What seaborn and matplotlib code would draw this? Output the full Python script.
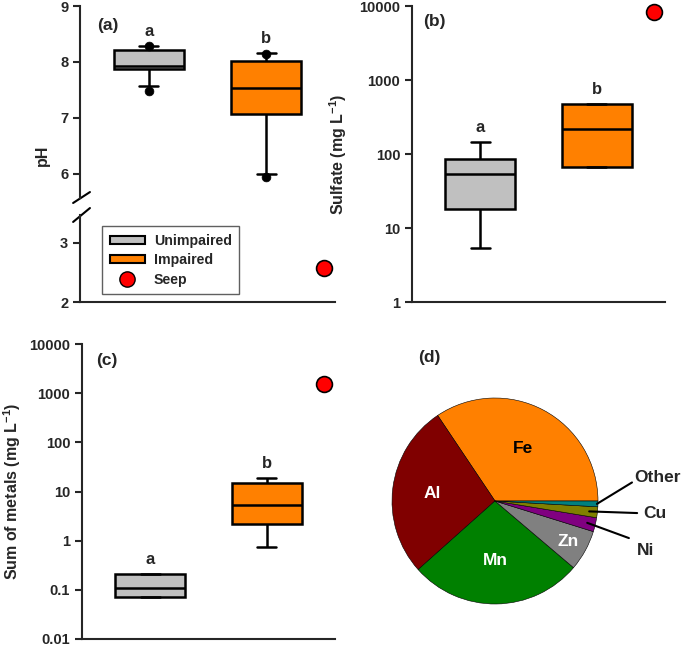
import numpy as np
import pandas as pd
import seaborn as sns
import matplotlib.pyplot as plt
from matplotlib.patches import Patch
from matplotlib.lines import Line2D

# ------- data ----------------------------
# box summaries: lower whisker, Q1, median, Q3, upper whisker
groups = ["Unimpaired", "Impaired"]

ph_unimpaired = [7.57, 7.87, 7.93, 8.21, 8.29]
ph_impaired = [5.99, 7.07, 7.54, 8.01, 8.16]
ph_dots_unimpaired = [7.49, 8.29]
ph_dots_impaired = [5.95, 8.15]
ph_seep = 2.57

sulfate_unimpaired = [5.3, 18.3, 54, 85, 144]
sulfate_impaired = [67, 67, 218, 479, 479]
sulfate_seep = 8300

metals_unimpaired = [0.070, 0.070, 0.111, 0.214, 0.214]
metals_impaired = [0.74, 2.17, 5.4, 14.8, 18.5]
metals_seep = 1550

letters = ["a", "b"]

ph_ticks_up = [6, 7, 8, 9]
ph_ticks_low = [2, 3]
sulfate_ticks = [1, 10, 100, 1000, 10000]
sulfate_labels = ["1", "10", "100", "1000", "10000"]
metals_ticks = [0.01, 0.1, 1, 10, 100, 1000, 10000]
metals_labels = ["0.01", "0.1", "1", "10", "100", "1000", "10000"]

metal_names = ["Fe", "Al", "Mn", "Zn", "Ni", "Cu", "Other"]
metal_share = [34.4, 27.2, 27.2, 6.4, 2.2, 1.7, 0.9]

# ------- style --------
box_colors = {"Unimpaired": "#c0c0c0", "Impaired": "#ff8000"}
pie_colors = ["#ff8000", "#800000", "#008000", "#808080", "#800080", "#808000", "#008080"]
pos = {"Unimpaired": 0, "Impaired": 1}
seep_x = 1.49
xlim = (-0.587, 1.587)

sns.set_style("ticks")
plt.rcParams['font.family'] = ['Liberation Sans', 'DejaVu Sans']
plt.rcParams['font.weight'] = 'bold'
plt.rcParams['axes.labelweight'] = 'bold'
plt.rcParams['mathtext.fontset'] = 'custom'
plt.rcParams['mathtext.rm'] = 'Liberation Sans:bold'
plt.rcParams['mathtext.bf'] = 'Liberation Sans:bold'
plt.rcParams['mathtext.it'] = 'Liberation Sans:bold'
plt.rcParams['axes.linewidth'] = 1.5

W, H = 685, 648
fig = plt.figure(figsize=(W / 100, H / 100), dpi=100)


def px_axes(left, top, right, bottom):
    return fig.add_axes([left / W, 1 - bottom / H, (right - left) / W, (bottom - top) / H])


def box_frame(unimp, imp):
    df = pd.DataFrame({"group": ["Unimpaired"] * len(unimp) + ["Impaired"] * len(imp),
                       "value": unimp + imp})
    df["pos"] = df["group"].map(pos)
    return df


def draw_boxes(ax, df, log=False):
    sns.boxplot(data=df, x="pos", y="value", hue="group", palette=box_colors,
                saturation=1, native_scale=True, width=0.6, whis=(0, 100),
                linewidth=1.8, linecolor="black", fliersize=0, legend=False,
                log_scale=(False, log), ax=ax, capwidths=0.16)
    ax.set_xlim(*xlim)
    ax.set_xlabel("")
    ax.tick_params(axis="x", bottom=False, labelbottom=False)
    ax.tick_params(axis="y", direction="out", length=5, width=1.5, labelsize=10.5)
    ax.minorticks_off()
    sns.despine(ax=ax)


def add_letters(ax, df):
    for g, let in zip(groups, letters):
        top = df.loc[df["group"] == g, "value"].max()
        ax.annotate(let, (pos[g], top), xytext=(0, 5), textcoords="offset points",
                    ha="center", va="bottom", fontsize=12, fontweight="bold")


def add_seep(ax, value):
    sns.scatterplot(x=[seep_x], y=[value], ax=ax, color="red", edgecolor="black",
                    linewidth=1.2, s=130, zorder=4, legend=False, clip_on=False)


# ------- (a) pH with broken axis --------
a_up = px_axes(80, 6, 335, 198)
a_lo = px_axes(80, 215, 335, 302)

ph_df = box_frame(ph_unimpaired, ph_impaired)
draw_boxes(a_up, ph_df)
dots = pd.DataFrame({"pos": [pos["Unimpaired"]] * 2 + [pos["Impaired"]] * 2,
                     "value": ph_dots_unimpaired + ph_dots_impaired})
sns.scatterplot(data=dots, x="pos", y="value", ax=a_up, color="black",
                edgecolor="black", s=40, zorder=4, legend=False)
a_up.set_ylim(5.57, 9.0)
a_up.set_yticks(ph_ticks_up)
a_up.spines["bottom"].set_visible(False)
a_up.set_ylabel("pH", fontsize=11.5)
a_up.yaxis.set_label_coords(-0.118, 0.224)
dots_df = pd.concat([ph_df, dots.assign(group=["Unimpaired"] * 2 + ["Impaired"] * 2)])
add_letters(a_up, dots_df)
a_up.text(0.067, 0.90, "(a)", transform=a_up.transAxes, fontsize=12.5,
          fontweight="bold", ha="left", va="center")

add_seep(a_lo, ph_seep)
a_lo.set_xlim(*xlim)
a_lo.set_ylim(2, 3.47)
a_lo.set_yticks(ph_ticks_low)
a_lo.set_xlabel("")
a_lo.set_ylabel("")
a_lo.tick_params(axis="x", bottom=False, labelbottom=False)
a_lo.tick_params(axis="y", direction="out", length=5, width=1.5, labelsize=10.5)
sns.despine(ax=a_lo)

# break marks
for ax, ys in [(a_up, (-0.026, 0.031)), (a_lo, (0.92, 1.08))]:
    ax.plot([-0.027, 0.039], ys, transform=ax.transAxes, color="black",
            linewidth=1.5, clip_on=False)

handles = [Patch(facecolor=box_colors["Unimpaired"], edgecolor="black", linewidth=1.5),
           Patch(facecolor=box_colors["Impaired"], edgecolor="black", linewidth=1.5),
           Line2D([], [], marker="o", linestyle="none", markerfacecolor="red",
                  markeredgecolor="black", markersize=11)]
leg = a_lo.legend(handles, ["Unimpaired", "Impaired", "Seep"], loc="upper left",
                  bbox_to_anchor=(0.086, 0.874), borderaxespad=0, fontsize=10.2,
                  handlelength=2.5, handleheight=0.5, handletextpad=0.6,
                  labelspacing=0.38, borderpad=0.55, fancybox=False, framealpha=1)
leg.get_frame().set_edgecolor("#606060")
leg.get_frame().set_linewidth(1.0)

# ------- (b) sulfate --------
b = px_axes(412, 6, 665, 302)
sulf_df = box_frame(sulfate_unimpaired, sulfate_impaired)
draw_boxes(b, sulf_df, log=True)
add_seep(b, sulfate_seep)
b.set_ylim(1, 10000)
b.set_yticks(sulfate_ticks, sulfate_labels)
b.minorticks_off()
b.set_ylabel(r"Sulfate (mg L$^{-1}$)", fontsize=11.5)
b.yaxis.set_label_coords(-0.249, 0.5)
add_letters(b, sulf_df)
b.text(0.043, 0.946, "(b)", transform=b.transAxes, fontsize=12.5,
       fontweight="bold", ha="left", va="center")

# ------- (c) sum of metals --------
c = px_axes(82, 344, 335, 639)
met_df = box_frame(metals_unimpaired, metals_impaired)
draw_boxes(c, met_df, log=True)
add_seep(c, metals_seep)
c.set_ylim(0.01, 10000)
c.set_yticks(metals_ticks, metals_labels)
c.minorticks_off()
c.set_ylabel(r"Sum of metals (mg L$^{-1}$)", fontsize=11.5)
c.yaxis.set_label_coords(-0.232, 0.5)
add_letters(c, met_df)
c.text(0.055, 0.943, "(c)", transform=c.transAxes, fontsize=12.5,
       fontweight="bold", ha="left", va="center")

# ------- (d) pie of metal shares --------
d = px_axes(392, 398, 598, 604)
wedges, _ = d.pie(metal_share, colors=pie_colors, startangle=0, counterclock=True,
                  wedgeprops=dict(edgecolor="black", linewidth=0.4))
d.set_xlim(-1, 1)
d.set_ylim(-1, 1)
d.set_aspect("equal")

inside = {"Fe": (0.58, "black"), "Al": (0.61, "white"), "Mn": (0.58, "white"),
          "Zn": (0.81, "white")}
outside = {"Other": (1.33, 0.18, 1.35, 0.233),
           "Cu": (1.38, -0.117, 1.44, -0.117),
           "Ni": (1.30, -0.36, 1.38, -0.476)}
for w, name in zip(wedges, metal_names):
    ang = np.deg2rad((w.theta1 + w.theta2) / 2)
    if name in inside:
        r, col = inside[name]
        d.text(r * np.cos(ang), r * np.sin(ang), name, color=col, fontsize=12.5,
               fontweight="bold", ha="center", va="center")
    else:
        ex, ey, tx, ty = outside[name]
        r0 = 0.99 if name == "Other" else 0.92
        d.plot([r0 * np.cos(ang), ex], [r0 * np.sin(ang), ey], color="black",
               linewidth=1.5, clip_on=False)
        d.text(tx, ty, name, fontsize=12.5, fontweight="bold", ha="left", va="center")

d.text(-0.75, 1.39, "(d)", fontsize=12.5, fontweight="bold", ha="left", va="center")

fig.savefig("out.png", dpi=100)
